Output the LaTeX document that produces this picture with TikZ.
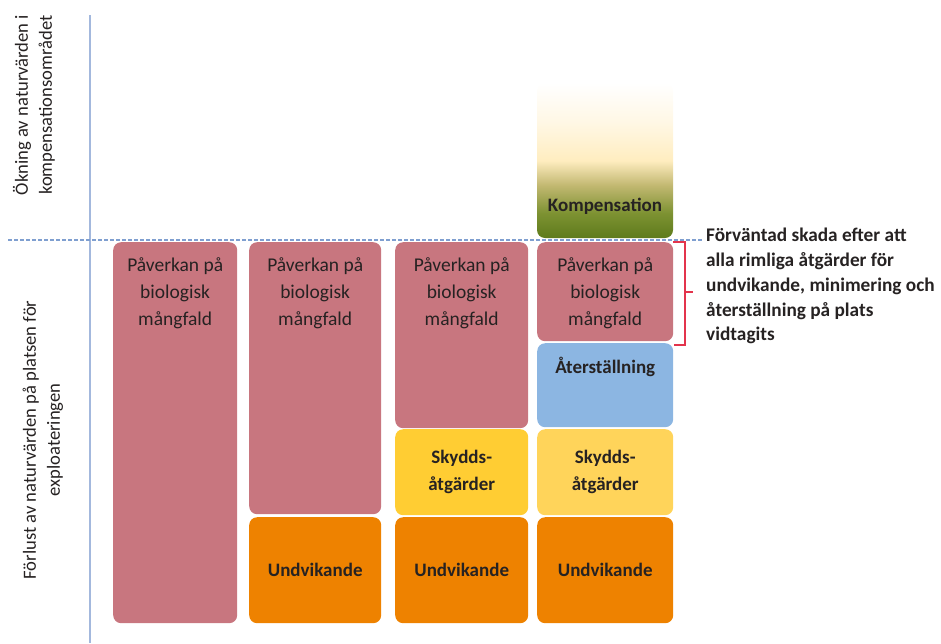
\documentclass[tikz,border=0pt]{standalone}
\usepackage{fontspec}
\setmainfont{Carlito}
\usetikzlibrary{calc}

\definecolor{pinkfill}{HTML}{C8767F}
\definecolor{orangefill}{HTML}{EE8200}
\definecolor{yellowA}{HTML}{FFCD33}
\definecolor{yellowB}{HTML}{FFD45A}
\definecolor{bluefill}{HTML}{8CB6E2}
\definecolor{axisblue}{HTML}{A3B8DD}
\definecolor{dashblue}{HTML}{7F9FD0}
\definecolor{bracered}{HTML}{E3344C}
\definecolor{txtdark}{HTML}{262222}
\definecolor{kdark}{HTML}{5E7B1C}
\definecolor{kolive}{HTML}{7D9232}
\definecolor{ktan}{HTML}{C2B871}
\definecolor{kcream}{HTML}{FFEDC0}
\definecolor{klight}{HTML}{FFF7E4}

% vertical fade for the compensation column (path spans 25bp..75bp)
\pgfdeclareverticalshading{kompfade}{100bp}{%
  color(0bp)=(kdark); color(25bp)=(kdark); color(33bp)=(kolive);
  color(42bp)=(ktan); color(50bp)=(kcream); color(62bp)=(klight);
  color(75bp)=(white); color(100bp)=(white)}

\tikzset{
  block/.style={rounded corners=8pt, minimum width=#1, inner sep=0pt,
                anchor=north west, draw=none},
  pinkbox/.style={block=#1, fill=pinkfill},
  orangebox/.style={block=#1, fill=orangefill},
  blocktext/.style={font=\fontsize{19.5}{27}\selectfont, text=txtdark,
                    align=center, inner sep=0pt},
  boldtext/.style={font=\fontsize{19}{27}\selectfont\bfseries, text=txtdark,
                   align=center, inner sep=0pt},
  axislabel/.style={font=\fontsize{18.6}{24}\selectfont, text=txtdark,
                    align=center, rotate=90, inner sep=0pt},
}

\begin{document}
\begin{tikzpicture}[x=1pt,y=-1pt]
\useasboundingbox (0,0) rectangle (941,643);

% axes
\coordinate (axtop) at (90,15);
\coordinate (axbot) at (90,643);
\coordinate (dashL) at (8,240);
\coordinate (dashR) at (702,240);
\draw[axisblue, line width=2pt] (axtop) -- (axbot);
\draw[dashblue, line width=1.4pt, dash pattern=on 4pt off 2pt] (dashL) -- (dashR);

% axis labels
\node[axislabel] (lblup) at (34,105) {Ökning av naturvärden i\\kompensationsområdet};
\node[axislabel] (lbldown) at (43,440) {Förlust av naturvärden på platsen för\\exploateringen};

% column 1
\node[pinkbox=124pt, minimum height=381pt] (p1) at (113,242) {};
\node[blocktext, anchor=north] (p1t) at ($(p1.north)+(0,15)$) {Påverkan på\\biologisk\\mångfald};

% column 2
\node[pinkbox=132pt, minimum height=272pt] (p2) at (249,242) {};
\node[blocktext, anchor=north] (p2t) at ($(p2.north)+(0,15)$) {Påverkan på\\biologisk\\mångfald};
\node[orangebox=132pt, minimum height=106pt] (u2) at (249,517) {};
\node[boldtext] (u2t) at (u2.center) {Undvikande};

% column 3
\node[pinkbox=133pt, minimum height=186pt] (p3) at (395,242) {};
\node[blocktext, anchor=north] (p3t) at ($(p3.north)+(0,15)$) {Påverkan på\\biologisk\\mångfald};
\node[block=133pt, fill=yellowA, minimum height=86pt] (s3) at (395,429) {};
\node[boldtext] (s3t) at (s3.center) {Skydds-\\åtgärder};
\node[orangebox=133pt, minimum height=106pt] (u3) at (395,517) {};
\node[boldtext] (u3t) at (u3.center) {Undvikande};

% column 4
\shade[shading=kompfade, rounded corners=8pt]
  (537,83) -- (537,238) -- (673,238) -- (673,83) -- cycle;
\node[inner sep=0pt, minimum width=136pt, minimum height=155pt, anchor=north west] (k4) at (537,83) {};
\node[boldtext] (k4t) at (605,206) {Kompensation};
\node[pinkbox=136pt, minimum height=99pt] (p4) at (537,242) {};
\node[blocktext, anchor=north] (p4t) at ($(p4.north)+(0,15)$) {Påverkan på\\biologisk\\mångfald};
\node[block=136pt, fill=bluefill, minimum height=84pt] (r4) at (537,343) {};
\node[boldtext] (r4t) at ($(r4.north)+(0,24)$) {Återställning};
\node[block=136pt, fill=yellowB, minimum height=86pt] (s4) at (537,429) {};
\node[boldtext] (s4t) at (s4.center) {Skydds-\\åtgärder};
\node[orangebox=136pt, minimum height=106pt] (u4) at (537,517) {};
\node[boldtext] (u4t) at (u4.center) {Undvikande};

% brace marking the expected residual damage
\coordinate (brTop) at (673,242);
\coordinate (brBot) at (674,345);
\coordinate (brMid) at (685,292);
\coordinate (brTip) at (693,292);
\draw[bracered, line width=1.5pt]
  (brTop) -- (685,242) -- (685,345) -- (brBot);
\draw[bracered, line width=1.5pt] (brMid) -- (brTip);

\node[font=\fontsize{19.3}{24.8}\selectfont\bfseries, text=txtdark,
      align=left, anchor=north west, inner sep=0pt] (note) at (706,228)
  {Förväntad skada efter att\\alla rimliga åtgärder för\\undvikande, minimering och\\återställning på plats\\vidtagits};
\end{tikzpicture}
\end{document}
